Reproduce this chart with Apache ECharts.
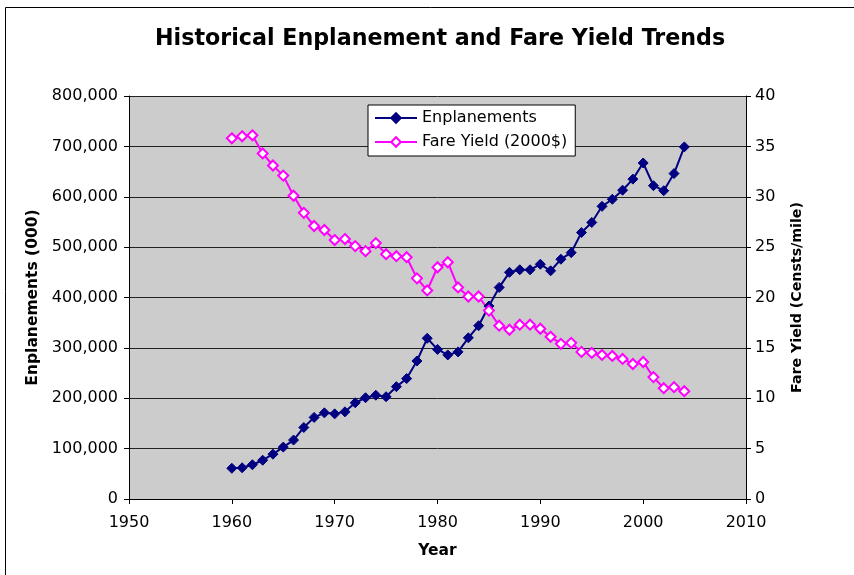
<!DOCTYPE html>
<html>
<head>
<meta charset="utf-8">
<script src="https://cdn.jsdelivr.net/npm/echarts@6/dist/echarts.min.js"></script>
<style>
html,body{margin:0;padding:0;background:#fff;}
#chart{width:854px;height:575px;}
</style>
</head>
<body>
<div id="chart"></div>
<script>
var years = [1960,1961,1962,1963,1964,1965,1966,1967,1968,1969,1970,1971,1972,1973,1974,1975,1976,1977,1978,1979,1980,1981,1982,1983,1984,1985,1986,1987,1988,1989,1990,1991,1992,1993,1994,1995,1996,1997,1998,1999,2000,2001,2002,2003,2004];
var enplanements = [61000,62000,68000,77000,89000,103000,117000,142000,162000,171000,169000,173000,191000,201000,206000,203000,223000,239000,274000,319000,297000,286000,292000,320000,344000,383000,420000,450000,455000,455000,466000,453000,476000,489000,529000,549000,581000,595000,613000,635000,667000,622000,612000,646000,699000];
var fareYield = [35.8,36.0,36.1,34.3,33.1,32.1,30.1,28.4,27.1,26.7,25.7,25.8,25.1,24.6,25.4,24.3,24.1,24.0,21.9,20.7,23.0,23.5,21.0,20.1,20.1,18.7,17.2,16.8,17.3,17.3,16.9,16.1,15.4,15.5,14.6,14.5,14.3,14.2,13.9,13.4,13.6,12.1,11.0,11.1,10.7];
var xTicks = [1950,1960,1970,1980,1990,2000,2010];

var font = 'DejaVu Sans, Verdana, sans-serif';
var chart = echarts.init(document.getElementById('chart'));
function pairs(a){ return years.map(function(y,i){ return [y,a[i]]; }); }

chart.setOption({
  animation:false,
  backgroundColor:'#fff',
  graphic:[{type:'rect',shape:{x:5.5,y:7.5,width:900,height:700},style:{fill:null,stroke:'#000',lineWidth:1},silent:true}],
  title:{text:'Historical Enplanement and Fare Yield Trends',left:150,top:23,
    textStyle:{fontFamily:font,fontWeight:'bold',fontSize:22.2,color:'#000'}},
  grid:{left:129,right:108,top:96,bottom:76,show:true,backgroundColor:'#cccccc',borderColor:'#808080',borderWidth:0},
  legend:{orient:'vertical',left:368,top:105,backgroundColor:'#fff',borderColor:'#000',borderWidth:1,
    padding:[5,8,6,6],itemGap:8,itemWidth:42,itemHeight:12,
    textStyle:{fontFamily:font,fontSize:16,color:'#000'},
    data:['Enplanements','Fare Yield (2000$)']},
  xAxis:{type:'value',min:1950,max:2010,interval:10,name:'Year',nameLocation:'middle',nameGap:44,
    nameTextStyle:{fontFamily:font,fontWeight:'bold',fontSize:15.5,color:'#000'},
    axisLine:{show:true,lineStyle:{color:'#000'}},axisTick:{show:true,length:5,lineStyle:{color:'#000'}},
    axisLabel:{fontFamily:font,fontSize:16,color:'#000',margin:16,
      formatter:function(v){ return xTicks.indexOf(v)>=0 ? String(v) : ''; }},
    splitLine:{show:false}},
  yAxis:[{type:'value',min:0,max:800000,interval:100000,position:'left',name:'Enplanements (000)',nameLocation:'middle',nameGap:83,
    nameTextStyle:{fontFamily:font,fontWeight:'bold',fontSize:15.5,color:'#000'},
    axisLine:{show:true,lineStyle:{color:'#000'}},axisTick:{show:true,length:5,lineStyle:{color:'#000'}},
    axisLabel:{fontFamily:font,fontSize:16,color:'#000',margin:11,formatter:function(v){return v.toLocaleString('en-US');}},
    splitLine:{show:true,lineStyle:{color:'#222',width:1}}},
   {type:'value',min:0,max:40,interval:5,position:'right',name:'Fare Yield (Censts/mile)',nameLocation:'middle',nameGap:44,
    nameTextStyle:{fontFamily:font,fontWeight:'bold',fontSize:14.2,color:'#000'},
    axisLine:{show:true,lineStyle:{color:'#000'}},axisTick:{show:true,length:5,lineStyle:{color:'#000'}},
    axisLabel:{fontFamily:font,fontSize:16,color:'#000',margin:9},
    splitLine:{show:false}}],
  series:[
    {name:'Enplanements',type:'line',yAxisIndex:0,data:pairs(enplanements),
      symbol:'diamond',symbolSize:10,lineStyle:{color:'#000080',width:2},
      itemStyle:{color:'#000080',borderColor:'#000080',borderWidth:1}},
    {name:'Fare Yield (2000$)',type:'line',yAxisIndex:1,data:pairs(fareYield),
      symbol:'diamond',symbolSize:10,lineStyle:{color:'#ff00ff',width:2},
      itemStyle:{color:'#ffffff',borderColor:'#ff00ff',borderWidth:2}}
  ]
});
</script>
</body>
</html>
